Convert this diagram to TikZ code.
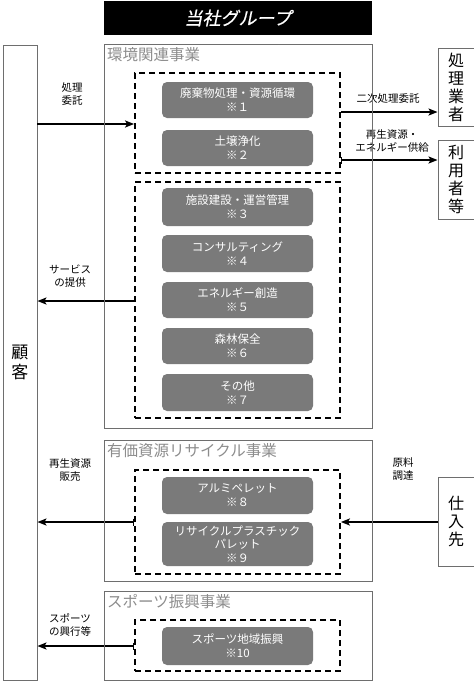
\documentclass[tikz,border=0pt]{standalone}
\usepackage{fontspec}
\setmainfont{Noto Sans CJK JP}
\newfontfamily\ttlfont[FakeSlant=0.2,FakeBold=0.6]{Noto Sans CJK JP}
\usetikzlibrary{arrows.meta}
\definecolor{boxgray}{HTML}{7A7A7A}
\definecolor{linegray}{HTML}{6E6E6E}
\definecolor{ttlgray}{HTML}{8C8C8C}
\tikzset{
  px/.style={x=1pt,y=-1pt},
  sect/.style={draw=linegray,line width=0.9pt,inner sep=0pt},
  grp/.style={draw=black,line width=1.8pt,dash pattern=on 6pt off 4pt,inner sep=0pt},
  item/.style={fill=boxgray,rounded corners=5pt,text=white,inner sep=0pt,align=center,font=\fontsize{11.5}{14}\selectfont},
  party/.style={draw=linegray,line width=0.9pt,inner sep=0pt,align=center,font=\fontsize{16}{18}\selectfont},
  lbl/.style={align=center,font=\fontsize{10.5}{13}\selectfont,inner sep=0pt},
  sttl/.style={anchor=north west,text=ttlgray,font=\fontsize{15.5}{18}\selectfont,inner sep=0pt},
  conn/.style={line width=1.7pt,-{Stealth[length=9pt,width=7pt,inset=2pt]}},
  connb/.style={line width=1.7pt,{Bar[width=7pt,line width=1.2pt]}-{Stealth[length=9pt,width=7pt,inset=2pt]}}
}
\begin{document}
\begin{tikzpicture}[px]
\useasboundingbox (0,0) rectangle (474,681);
% title
\node[fill=black,text=white,minimum width=268pt,minimum height=34pt,inner sep=0pt,font=\ttlfont\fontsize{18}{20}\selectfont] (title) at (238,18) {当社グループ};
% customer
\node[party,minimum width=34pt,minimum height=635pt,font=\fontsize{17}{19.5}\selectfont] (cust) at (20,362.5) {顧\\客};
% right parties
\node[party,minimum width=36pt,minimum height=78pt] (proc) at (456,87) {処\\理\\業\\者};
\node[party,minimum width=36pt,minimum height=79pt] (user) at (456,179.5) {利\\用\\者\\等};
\node[party,minimum width=36pt,minimum height=89pt] (supp) at (456,521.5) {仕\\入\\先};
% dashed groups
\node[grp,minimum width=205pt,minimum height=100pt] (g1) at (237.5,123) {};
\node[grp,minimum width=205pt,minimum height=236pt] (g2) at (237.5,300) {};
\node[grp,minimum width=205pt,minimum height=104pt] (g3) at (237.5,522) {};
\node[grp,minimum width=205pt,minimum height=51pt] (g4) at (237.5,645.5) {};
% items
\node[item,minimum width=151pt,minimum height=36pt] (i1) at (237.5,100) {廃棄物処理・資源循環\\※１};
\node[item,minimum width=151pt,minimum height=36pt] (i2) at (237.5,148) {土壌浄化\\※２};
\node[item,minimum width=151pt,minimum height=38pt] (i3) at (237.5,207) {施設建設・運営管理\\※３};
\node[item,minimum width=151pt,minimum height=37pt] (i4) at (237.5,253.5) {コンサルティング\\※４};
\node[item,minimum width=151pt,minimum height=36pt] (i5) at (237.5,300) {エネルギー創造\\※５};
\node[item,minimum width=151pt,minimum height=36pt] (i6) at (237.5,346) {森林保全\\※６};
\node[item,minimum width=151pt,minimum height=37pt] (i7) at (237.5,392.5) {その他\\※７};
\node[item,minimum width=151pt,minimum height=37pt] (i8) at (237.5,495.5) {アルミペレット\\※８};
\node[item,minimum width=151pt,minimum height=44pt,font=\fontsize{11.5}{13.5}\selectfont] (i9) at (237.5,544) {リサイクルプラスチック\\パレット\\※９};
\node[item,minimum width=151pt,minimum height=38pt] (i10) at (237.5,646) {スポーツ地域振興\\※10};
% connectors
\coordinate (a1) at (cust.east |- 0,124);
\draw[conn] (a1) -- (g1.west |- a1);
\coordinate (a2) at (g1.east |- 0,112);
\draw[conn] (a2) -- (proc.west |- a2);
\coordinate (a3) at (g1.east |- 0,160);
\draw[connb] (a3) -- (user.west |- a3);
\coordinate (a4) at (g2.west |- 0,301);
\draw[conn] (a4) -- (cust.east |- a4);
\coordinate (a5) at (supp.west |- 0,522);
\draw[conn] (a5) -- (g3.east |- a5);
\coordinate (a6) at (g3.west |- 0,522);
\draw[connb] (a6) -- (cust.east |- a6);
\coordinate (a7) at (g4.west |- 0,646);
\draw[connb] (a7) -- (cust.east |- a7);
% labels
\node[lbl] (l1) at (72,94) {処理\\委託};
\node[lbl] (l2) at (388,99) {二次処理委託};
\node[lbl] (l3) at (392,141) {再生資源・\\エネルギー供給};
\node[lbl] (l4) at (70,276.5) {サービス\\の提供};
\node[lbl] (l5) at (70,470) {再生資源\\販売};
\node[lbl] (l6) at (403,469.5) {原料\\調達};
\node[lbl] (l7) at (70,624.5) {スポーツ\\の興行等};
% sections
\node[sect,minimum width=268pt,minimum height=384pt] (s1) at (238,236) {};
\node[sect,minimum width=268pt,minimum height=141pt] (s2) at (238,510.5) {};
\node[sect,minimum width=268pt,minimum height=89pt] (s3) at (238,635.5) {};
\node[sttl] (t1) at (107,47) {環境関連事業};
\node[sttl] (t2) at (107,443) {有価資源リサイクル事業};
\node[sttl] (t3) at (107,594) {スポーツ振興事業};
\end{tikzpicture}
\end{document}
